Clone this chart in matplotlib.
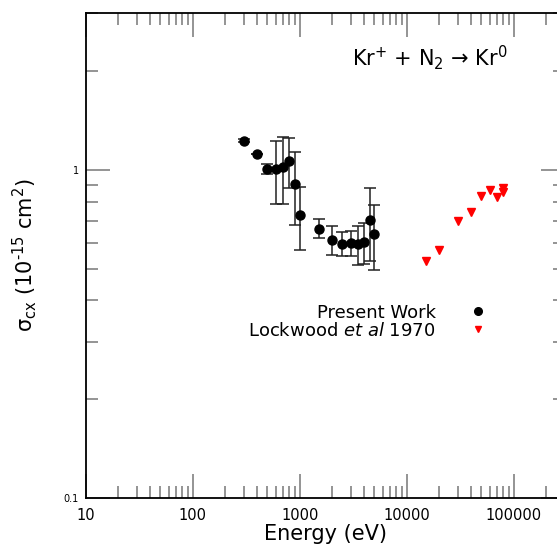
import numpy as np
import matplotlib
matplotlib.use('Agg')
import matplotlib.pyplot as plt

# present work (eV, 1e-15 cm^2)
energy = [300, 400, 500, 600, 700, 800, 900, 1000, 1500, 2000, 2500, 3000,
          3500, 4000, 4500, 5000]
sigma = [1.225, 1.12, 1.005, 1.005, 1.02, 1.065, 0.905, 0.728, 0.662, 0.612,
         0.595, 0.598, 0.594, 0.603, 0.703, 0.638]
sigma_err = [0.012, 0.0, 0.035, 0.217, 0.235, 0.188, 0.225, 0.157, 0.044,
             0.062, 0.05, 0.053, 0.08, 0.087, 0.177, 0.142]

# Lockwood et al 1970
lock_energy = [15000, 20000, 30000, 40000, 50000, 60000, 70000, 80000, 80000]
lock_sigma = [0.529, 0.570, 0.699, 0.746, 0.833, 0.867, 0.827, 0.855, 0.883]

xticks = [10, 100, 1000, 10000, 100000]
xticklabels = ['10', '100', '1000', '10000', '100000']
yticks = [0.1, 1]
yticklabels = ['0.1', '1']

plt.rcParams['font.family'] = 'DejaVu Sans'
plt.rcParams['mathtext.fontset'] = 'dejavusans'

fig = plt.figure(figsize=(5.57, 5.44), dpi=100)
ax = fig.add_axes([85.7/557, 1 - 498.3/544, 479/557, 485.3/544])

ax.set_xscale('log')
ax.set_yscale('log')

eb = ax.errorbar(energy, sigma, yerr=sigma_err, fmt='none',
                 ecolor='#222222', elinewidth=1.1, capsize=4, capthick=1.1)
for cap in eb[1]:
    cap.set_color('#666666')
pw, = ax.plot(energy, sigma, 'o', color='black', ms=6.5, ls='none',
              label='Present Work')
lw, = ax.plot(lock_energy, lock_sigma, 'v', color='red', ms=5.5, ls='none',
              label='Lockwood $\\it{et\\ al}$ 1970')

ax.set_xlim(10, 3e5)
ax.set_ylim(0.1, 3)

ax.set_xticks(xticks)
ax.set_xticklabels(xticklabels)
ax.set_yticks(yticks)
ax.set_yticklabels(yticklabels)
ax.xaxis.set_minor_formatter(matplotlib.ticker.NullFormatter())
ax.yaxis.set_minor_formatter(matplotlib.ticker.NullFormatter())

ax.tick_params(which='both', direction='in', top=True, right=True,
               color='#777777', width=1.1)
ax.tick_params(which='major', length=17)
ax.tick_params(which='minor', length=8.6)
ax.tick_params(axis='x', labelsize=10.5, pad=7)
ax.tick_params(axis='y', labelsize=7, pad=5)
for sp in ax.spines.values():
    sp.set_linewidth(1.3)

ax.set_xlabel('Energy (eV)', fontsize=15, labelpad=0.5)
ax.set_ylabel('$\\mathregular{\\sigma_{cx}}$ (10$^{\\text{-15}}$ cm$^{2}$)',
              fontsize=15, labelpad=18)

ax.text(0.556, 0.891, 'Kr$^{+}$ + N$_{2}$ \u2192 Kr$^{0}$',
        transform=ax.transAxes, fontsize=15, ha='left', va='baseline')

leg = ax.legend(handles=[pw, lw], loc='center right',
                bbox_to_anchor=(0.875, 0.364), frameon=False,
                markerfirst=False, numpoints=1, fontsize=13, borderpad=0,
                labelspacing=0.0, handletextpad=1.33, handlelength=2)
leg.legend_handles[0].set_markersize(5.5)
leg.legend_handles[1].set_markersize(5)

fig.savefig('out.png', dpi=100)
